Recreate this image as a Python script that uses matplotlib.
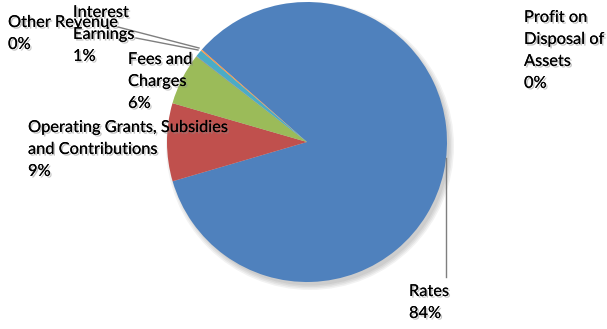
import matplotlib.pyplot as plt
import matplotlib.patheffects as pe
from matplotlib.patches import Circle

# revenue shares (percent)
categories = ["Rates", "Operating Grants, Subsidies\nand Contributions", "Fees and\nCharges",
              "Other Revenue", "Interest\nEarnings", "Profit on\nDisposal of\nAssets"]
values = [84.0, 9.0, 6.0, 0.05, 0.8, 0.15]
pct_labels = ["84%", "9%", "6%", "0%", "1%", "0%"]
colors = ["#4F81BD", "#C0504D", "#9BBB59", "#8064A2", "#4BACC6", "#F79646"]

W, H = 607, 329
fig = plt.figure(figsize=(W / 100, H / 100), dpi=100)
ax = fig.add_axes([0, 0, 1, 1])

cx, cy, r = 307, H - 142, 140

# soft shadow under the pie
for i in range(4):
    ax.add_patch(Circle((cx + 3, cy - 4), r + 4 - i * 1.5, color="black", alpha=0.05, lw=0, zorder=0))

ax.pie(values, colors=colors, startangle=138.7, counterclock=False, center=(cx, cy),
       radius=r, wedgeprops=dict(linewidth=0), frame=True)
ax.set_xlim(0, W)
ax.set_ylim(0, H)
ax.set_aspect("equal")
ax.axis("off")

# label positions (top-left, image pixels)
label_pos = [(409, 285), (28, 121), (128, 53), (8, 16), (73, 6), (524, 11)]
for name, pct, (x, y) in zip(categories, pct_labels, label_pos):
    ax.text(x, H - y, name + "\n" + pct, ha="left", va="top", fontsize=11.8,
            family=["Lato", "DejaVu Sans"], linespacing=1.72, color="black", zorder=5,
            path_effects=[pe.withSimplePatchShadow(offset=(1.2, -1.2), shadow_rgbFace="#888888", alpha=0.5),
                          pe.Normal()])

# leader lines
ax.plot([446, 446], [H - 158, H - 277], color="#7f7f7f", lw=1, zorder=3)
ax.plot([118, 199], [H - 27, H - 48], color="#7f7f7f", lw=1, zorder=3)
ax.plot([136, 198], [H - 38, H - 50], color="#7f7f7f", lw=1, zorder=3)

fig.savefig("out.png", dpi=100)
